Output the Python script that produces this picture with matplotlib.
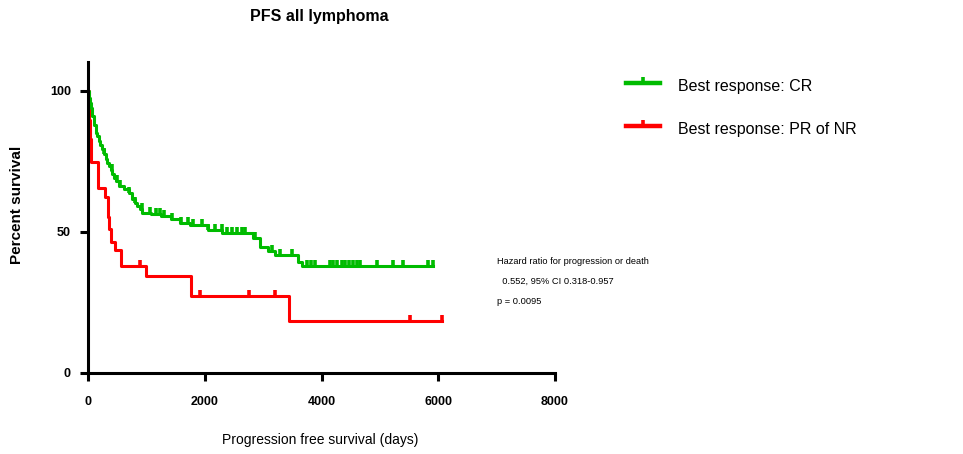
import numpy as np
import matplotlib
matplotlib.use("Agg")
import matplotlib.pyplot as plt
from matplotlib.lines import Line2D

plt.rcParams['font.family'] = ['Liberation Sans', 'DejaVu Sans']

# Kaplan-Meier steps: day of the step and percent after it
cr_times = [0, 12, 21, 38, 55, 69, 98, 127, 149, 183, 209, 240, 269, 298, 321,
            355, 381, 411, 440, 470, 526, 612, 698, 754, 800, 840, 886, 926,
            1070, 1241, 1412, 1572, 1743, 2052, 2292, 2823, 2943, 3080, 3200,
            3594, 3663]
cr_surv = [100, 97.5, 95.9, 94.0, 92.5, 91.1, 88.0, 85.2, 84.0, 82.3, 81.0,
           79.3, 77.5, 75.7, 74.5, 73.4, 72.0, 70.4, 69.2, 68.1, 66.3, 65.1,
           63.9, 61.6, 60.4, 59.2, 58.0, 56.8, 56.2, 55.6, 54.5, 53.2, 52.4,
           50.7, 49.5, 47.8, 44.7, 43.2, 41.8, 39.4, 37.8]
cr_end = 5916
cr_censor = [269, 406, 497, 543, 698, 800, 915, 1052, 1155, 1229, 1298, 1429,
             1584, 1709, 1795, 1944, 2052, 2172, 2287, 2372, 2458, 2544, 2629,
             2686, 2858, 3143, 3286, 3486, 3743, 3817, 3886, 4143, 4194, 4258,
             4349, 4401, 4469, 4537, 4606, 4658, 4954, 5228, 5389, 5828, 5914]

nr_times = [0, 5, 12, 20, 28, 36, 44, 52, 166, 281, 338, 355, 383, 452, 555,
            984, 1760, 3446]
nr_surv = [100, 96.6, 93.1, 89.7, 86.2, 82.8, 79.3, 74.9, 65.5, 62.3, 55.2,
           50.9, 46.5, 43.6, 37.7, 34.2, 27.3, 18.2]
nr_end = 6060
nr_censor = [886, 1915, 2755, 3200, 5515, 6060]

x_ticks = [0, 2000, 4000, 6000, 8000]
y_ticks = [0, 50, 100]

labels = ['Best response: CR', 'Best response: PR of NR']
stats = ['Hazard ratio for progression or death',
         '  0.552, 95% CI 0.318-0.957',
         'p = 0.0095']

GREEN = '#00bb00'
RED = '#ff0000'
LW = 2.2
W, H = 963, 454


def km_line(ax, times, surv, end, censor, color):
    t = np.append(times, end)
    s = np.append(surv, surv[-1])
    ax.plot(t, s, drawstyle='steps-post', color=color, lw=LW, zorder=3)
    # survival level at each censored time -> small tick up
    idx = np.searchsorted(times, censor, side='right') - 1
    ax.plot(censor, np.asarray(surv)[idx], ls='none', marker=2, ms=4.5,
            mew=2.6, color=color, zorder=3)


fig = plt.figure(figsize=(W / 100, H / 100), dpi=100)
ax = fig.add_axes([0.0917, 0.1791, 0.4846, 0.685])

km_line(ax, nr_times, nr_surv, nr_end, nr_censor, RED)
km_line(ax, cr_times, cr_surv, cr_end, cr_censor, GREEN)

ax.set_xlim(0, 8000)
ax.set_ylim(0, 110.4)
ax.set_xticks(x_ticks)
ax.set_yticks(y_ticks)
for s in ['top', 'right']:
    ax.spines[s].set_visible(False)
for s in ['left', 'bottom']:
    ax.spines[s].set_linewidth(LW)
    ax.spines[s].set_zorder(4)
ax.tick_params(axis='both', direction='out', length=6, width=LW)
ax.tick_params(axis='x', pad=11)
ax.tick_params(axis='y', pad=6.5)
for lab in ax.get_xticklabels() + ax.get_yticklabels():
    lab.set_fontweight('bold')
    lab.set_fontsize(9)

fig.text(0.332, 1 - 16 / H, 'PFS all lymphoma', ha='center', va='center',
         fontsize=11.5, fontweight='bold')
fig.text(0.018, 1 - 205 / H, 'Percent survival', rotation=90, ha='center',
         va='center', fontsize=11, fontweight='bold')
fig.text(0.332, 1 - 440 / H, 'Progression free survival (days)',
         ha='center', va='center', fontsize=10)

# legend drawn by hand: line with a censor tick, text a bit lower
for i, (lab, col) in enumerate(zip(labels, [GREEN, RED])):
    ly = 1 - (83.3 + 42.4 * i) / H
    fig.add_artist(Line2D([626 / W, 660 / W], [ly, ly], color=col,
                          lw=LW + 1, transform=fig.transFigure))
    fig.add_artist(Line2D([643 / W], [ly], color=col, ls='none', marker=2,
                          ms=4.5, mew=2.6, transform=fig.transFigure))
    fig.text(678 / W, 1 - (87 + 42.4 * i) / H, lab, ha='left', va='center',
             fontsize=11.5)

for i, line in enumerate(stats):
    fig.text(497 / W, 1 - (261 + 20 * i) / H, line, ha='left',
             va='center', fontsize=6.7)

fig.savefig('out.png', dpi=100)
